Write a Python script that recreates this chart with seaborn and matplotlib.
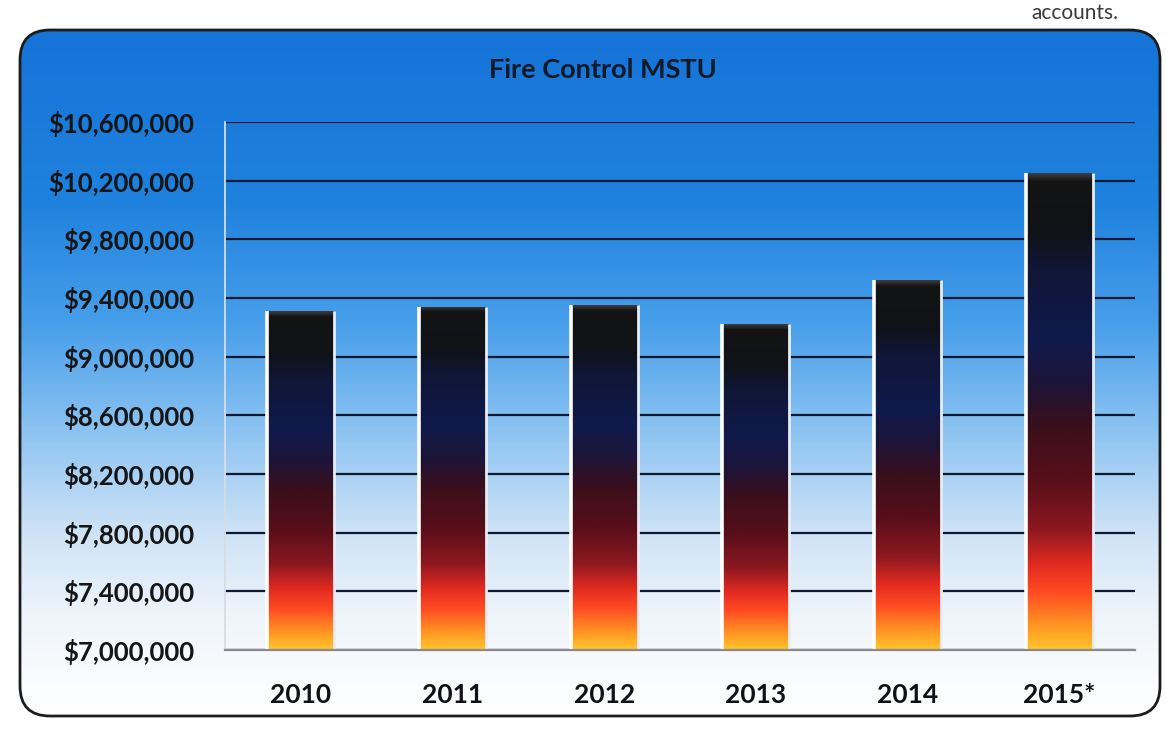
import numpy as np
import pandas as pd
import matplotlib
matplotlib.use("Agg")
import matplotlib.pyplot as plt
import seaborn as sns
from matplotlib.colors import LinearSegmentedColormap
from matplotlib.patches import FancyBboxPatch

# Fire Control MSTU revenue by fiscal year
years = ["2010", "2011", "2012", "2013", "2014", "2015*"]
revenue = [9310000, 9340000, 9350000, 9220000, 9520000, 10250000]
y_ticks = [7000000, 7400000, 7800000, 8200000, 8600000,
           9000000, 9400000, 9800000, 10200000, 10600000]
title = "Fire Control MSTU"
page_text = "accounts."

df = pd.DataFrame({"year": years, "revenue": revenue})

sns.set_theme(style="white")
plt.rcParams["font.family"] = ["Lato", "DejaVu Sans"]

W, H = 1166, 732
fig = plt.figure(figsize=(W / 100, H / 100), dpi=100)
fig.patch.set_facecolor("white")

# --- rounded card with a blue-to-white vertical gradient -------------------
bg = fig.add_axes([0, 0, 1, 1], zorder=0)
bg.set_xlim(0, W)
bg.set_ylim(H, 0)
bg.axis("off")

card_x, card_y, card_w, card_h = 20, 30, 1140, 686
sky = LinearSegmentedColormap.from_list(
    "sky",
    [(0.00, "#1673d8"), (0.25, "#1f82de"), (0.43, "#489fea"),
     (0.58, "#8ac2f1"), (0.73, "#cde2f6"), (0.86, "#f0f5fb"), (1.00, "#ffffff")],
)
grad = np.linspace(0, 1, 512).reshape(-1, 1)
img = bg.imshow(grad, cmap=sky, aspect="auto", origin="upper",
                extent=(card_x, card_x + card_w, card_y + card_h, card_y))
card = FancyBboxPatch((card_x, card_y), card_w, card_h,
                      boxstyle="round,pad=0,rounding_size=30",
                      facecolor="none", edgecolor="#1c1c1c", linewidth=2.0)
bg.add_patch(card)
img.set_clip_path(card)

fig.text(603 / W, 1 - 70 / H, title, ha="center", va="center",
         fontsize=19.5, fontweight="bold", color="#101a26")
fig.text(1118 / W, 1 - 13 / H, page_text, ha="right", va="center",
         fontsize=15, color="#3a3a3a")

# --- bar chart --------------------------------------------------------------
ax = fig.add_axes([225 / W, 1 - 650 / H, 910 / W, (650 - 122) / H], zorder=1)
ax.set_facecolor("none")

sns.barplot(data=df, x="year", y="revenue", ax=ax, width=0.44,
            color="#101a4c", saturation=1, errorbar=None)

ymin, ymax = y_ticks[0], y_ticks[-1]
fire = LinearSegmentedColormap.from_list(
    "fire",
    [(0.00, "#ffc42c"), (0.05, "#ff9622"), (0.12, "#ff4a22"),
     (0.18, "#e02a20"), (0.25, "#8e1820"), (0.35, "#5a0f1a"),
     (0.47, "#3a0f1c"), (0.56, "#1c1438"), (0.65, "#101a4c"),
     (0.80, "#0f1636"), (0.88, "#101216"), (0.985, "#141414"),
     (1.00, "#3a3a3a")],
)
for patch in ax.patches:
    x0 = patch.get_x()
    x1 = x0 + patch.get_width()
    top = patch.get_y() + patch.get_height()
    patch.set_facecolor("none")
    patch.set_edgecolor("none")
    im = ax.imshow(grad, cmap=fire, origin="lower", aspect="auto",
                   extent=(x0, x1, ymin, top), zorder=2)
    im.set_clip_path(patch)
    ax.vlines(x0, ymin, top, color="#ffffff", linewidth=2.6, zorder=3)
    ax.vlines(x1, ymin, top, color="#e6edf4", linewidth=2.0, zorder=3)

ax.set_xlim(-0.5, len(years) - 0.5)
ax.set_ylim(ymin, ymax)
ax.set_yticks(y_ticks)
ax.set_yticklabels([f"${v:,}" for v in y_ticks])
ax.yaxis.grid(True, color="#0b1a30", linewidth=1.6)
ax.xaxis.grid(False)
ax.set_axisbelow(True)

ax.set_xlabel("")
ax.set_ylabel("")
ax.tick_params(axis="y", length=0, pad=22, labelsize=18.5, labelcolor="#151515")
ax.tick_params(axis="x", length=0, pad=24, labelsize=19, labelcolor="#111111")
for lab in ax.get_xticklabels() + ax.get_yticklabels():
    lab.set_fontweight("bold")

for side in ("top", "right"):
    ax.spines[side].set_visible(False)
ax.spines["left"].set_color("#d6dde4")
ax.spines["left"].set_linewidth(1.3)
ax.spines["bottom"].set_color("#8a8a8a")
ax.spines["bottom"].set_linewidth(1.6)
ax.spines["bottom"].set_zorder(4)

fig.savefig("out.png", dpi=100, facecolor="white")
